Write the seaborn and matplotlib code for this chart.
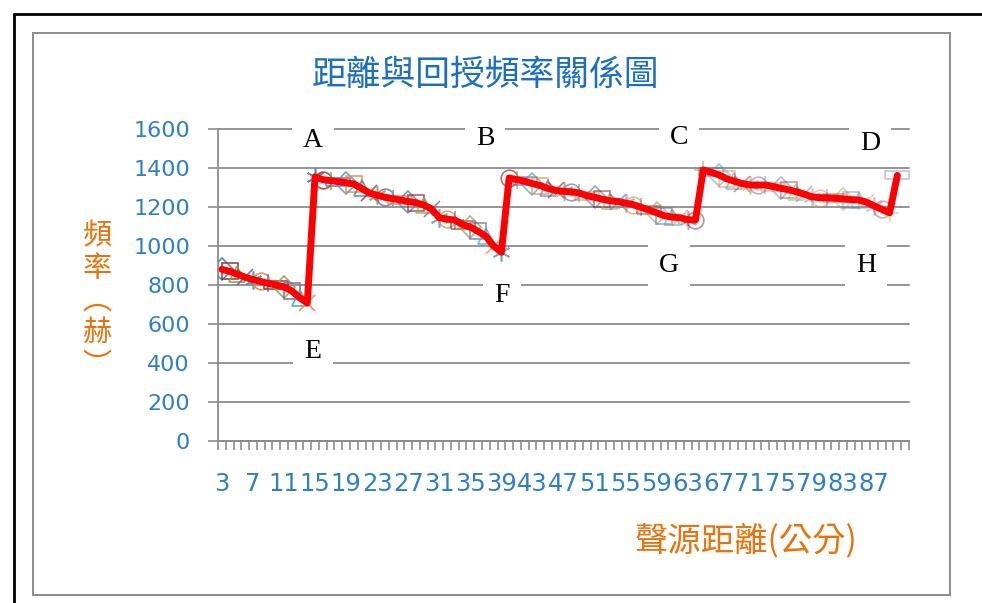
import numpy as np
import matplotlib
matplotlib.use("Agg")
import matplotlib.pyplot as plt
from matplotlib.lines import Line2D
from matplotlib.patches import Rectangle
from matplotlib.path import Path
import seaborn as sns

sns.set_style("white")
plt.rcParams['font.family'] = ['DejaVu Sans', 'Noto Sans CJK TC']

# distance (cm) and feedback frequency (Hz)
distances = list(range(3, 91))
freq = [880, 870, 855, 840, 828, 818, 808, 800, 790, 770, 735, 708,
        1355, 1340, 1335, 1330, 1325, 1318, 1295, 1272, 1260, 1250, 1243, 1236, 1228,
        1222, 1210, 1190, 1145, 1138, 1133, 1110, 1097, 1075, 1050, 1000, 968,
        1349, 1340, 1332, 1320, 1310, 1295, 1285, 1280, 1278, 1272, 1258, 1250,
        1240, 1232, 1228, 1220, 1212, 1198, 1185, 1170, 1155, 1148, 1145, 1135, 1133,
        1390, 1378, 1365, 1345, 1332, 1320, 1313, 1312, 1313, 1305, 1296, 1288,
        1278, 1266, 1252, 1248, 1247, 1245, 1242, 1238, 1236, 1225, 1206, 1188, 1170,
        1362]
n_slots = 89
y_ticks = [0, 200, 400, 600, 800, 1000, 1200, 1400, 1600]
letters = ['A', 'B', 'C', 'D', 'E', 'F', 'G', 'H']
letter_xy = [(313, 141), (485, 138), (679, 137), (870, 143),
             (313, 351), (502, 296), (669, 266), (866, 266)]

W, H = 982, 603
fig = plt.figure(figsize=(W / 100, H / 100), dpi=100)
ax = fig.add_axes([218 / W, 1 - 441 / H, (909 - 218) / W, (441 - 129) / H])

pos = np.arange(len(freq))
sns.lineplot(x=pos, y=freq, color='#FF0000', linewidth=5, ax=ax, zorder=4)

# excel-like cycling markers
dash = Path([(-0.6, -0.18), (0.6, -0.18), (0.6, 0.18), (-0.6, 0.18), (-0.6, -0.18)])
marker_cycle = ['D', 's', '^', 'x', (6, 2, 0), 'o', '+', dash]
size_cycle = [11, 11, 11, 12, 13, 12, 13, 17]
color_cycle = ['#4F81BD', '#9B3B39', '#8AA64E', '#7A66A8', '#3FA3C0', '#E8893F']
for i, (p, v) in enumerate(zip(pos, freq)):
    a = 0.95 - 0.55 * i / len(freq)
    ax.plot([p], [v], linestyle='none', marker=marker_cycle[i % 8],
            markersize=size_cycle[i % 8], markerfacecolor='none',
            markeredgecolor=color_cycle[i % 6], markeredgewidth=1.2,
            alpha=a, zorder=3)

ax.set_xlim(-0.5, n_slots - 0.5)
ax.set_ylim(0, 1600)
ax.set_yticks(y_ticks)
ax.set_yticklabels([str(t) for t in y_ticks])
ax.set_xticks(pos[0:85:4])
ax.set_xticklabels([str(d) for d in distances[0:85:4]])
ax.set_xticks(np.arange(-0.5, n_slots, 1), minor=True)
ax.tick_params(axis='y', which='major', length=7.2, width=1.2, color='#8C8C8C',
               pad=13, labelsize=16, labelcolor='#2E7FC6', direction='out', left=True)
ax.tick_params(axis='x', which='major', length=0, pad=22, labelsize=17.5,
               labelcolor='#2E7FC6')
ax.tick_params(axis='x', which='minor', length=6.5, width=1.2, color='#8C8C8C',
               direction='out', bottom=True)
ax.set_xlabel('')
ax.set_ylabel('')
ax.grid(axis='y', color='#8C8C8C', linewidth=1.3)
ax.grid(axis='x', visible=False)
for s in ['top', 'right']:
    ax.spines[s].set_visible(False)
for s in ['left', 'bottom']:
    ax.spines[s].set_color('#8C8C8C')
    ax.spines[s].set_linewidth(1.3)
for gl in ax.get_ygridlines():
    gl.set_clip_on(False)

# frames
fig.add_artist(Rectangle((33 / W, 1 - 595 / H), (950 - 33) / W, (595 - 33) / H,
                         transform=fig.transFigure, fill=False,
                         edgecolor='#8C8C8C', linewidth=1.4))
fig.add_artist(Line2D([14 / W, 1], [1 - 14 / H, 1 - 14 / H],
                      transform=fig.transFigure, color='black', linewidth=2))
fig.add_artist(Line2D([14 / W, 14 / W], [0, 1 - 14 / H],
                      transform=fig.transFigure, color='black', linewidth=2))

# titles
cjk = ['Noto Sans CJK TC', 'DejaVu Sans']
fig.text(486 / W, 1 - 75 / H, '距離與回授頻率關係圖', ha='center', va='center',
         fontsize=25, color='#1A6FC4', family=cjk)
fig.text(746 / W, 1 - 541 / H, '聲源距離(公分)', ha='center', va='center',
         fontsize=24, color='#E8730C', family=cjk)
fig.text(97 / W, 1 - 301 / H, '頻\n率\n︵\n赫\n︶', ha='center', va='center',
         fontsize=21, color='#E8730C', family=cjk, linespacing=1.1)

for t, (x, y) in zip(letters, letter_xy):
    fig.text(x / W, 1 - y / H, t, ha='center', va='center', fontsize=20,
             family='Liberation Serif', color='black',
             bbox=dict(facecolor='white', edgecolor='none', boxstyle='square,pad=0.4'))

fig.savefig('out.png', dpi=100)
